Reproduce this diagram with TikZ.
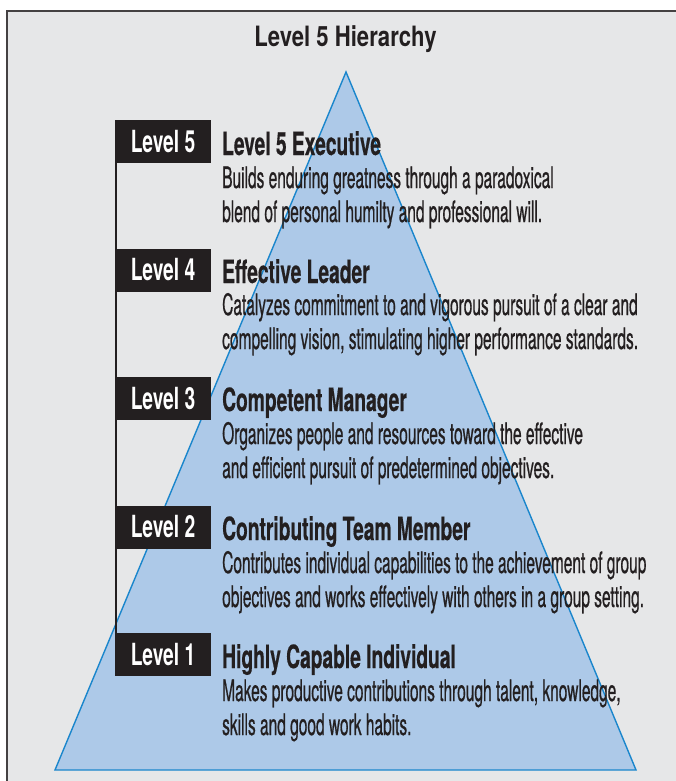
\documentclass[tikz,border=0pt]{standalone}
\usepackage{fontspec}
\newfontfamily\headfont[FakeStretch=0.79]{TeX Gyre Heros}
\newfontfamily\tagfont[FakeStretch=0.63]{TeX Gyre Heros}
\newfontfamily\namefont[FakeStretch=0.60, FakeBold=0.4]{TeX Gyre Heros}
\newfontfamily\descfont[FakeStretch=0.525, FakeBold=0.6]{TeX Gyre Heros}
\definecolor{panel}{RGB}{230,231,232}
\definecolor{pyrfill}{RGB}{173,201,232}
\definecolor{pyredge}{RGB}{26,134,204}
\definecolor{ink}{RGB}{35,31,32}
\begin{document}
\begin{tikzpicture}[x=1pt, y=-1pt]
\tikzstyle{lvltag} = [fill=ink, text=white, minimum width=96pt, minimum height=43pt, inner sep=0pt,
    font=\tagfont\bfseries\fontsize{30.5}{30}\selectfont]
\tikzstyle{lvlname} = [anchor=base west, inner sep=0pt, text=ink,
    font=\namefont\bfseries\fontsize{32}{34}\selectfont]
\tikzstyle{lvldesc} = [anchor=base west, inner sep=0pt, text=ink, align=left,
    font=\descfont\fontsize{29.5}{34}\selectfont]
\tikzstyle{header} = [anchor=base, inner sep=0pt, text=ink,
    font=\headfont\bfseries\fontsize{28}{30}\selectfont]
\useasboundingbox (0,0) rectangle (676,781);

% panel and pyramid
\fill[panel] (7,11) rectangle (676,781);
\draw[ink!85, line width=1.5pt] (7,781) -- (7,11) -- (676,11);
\filldraw[fill=pyrfill, draw=pyredge, line width=1.4pt, line join=miter]
    (346,72) -- (636,770) -- (55,770) -- cycle;

\node[header] (title) at (345.5,47) {Level 5 Hierarchy};

% level tags
\node[lvltag] (tag5) at (163,141.5) {Level 5};
\node[lvltag] (tag4) at (163,270) {Level 4};
\node[lvltag] (tag3) at (163,398.5) {Level 3};
\node[lvltag] (tag2) at (163,527) {Level 2};
\node[lvltag] (tag1) at (163,654.5) {Level 1};
\draw[ink, line width=2.5pt] ([xshift=1.3pt]tag5.south west) -- ([xshift=1.3pt]tag1.north west);

% names and descriptions (desc nodes sit on their last line)
\node[lvlname] (name5) at (222,155) {Level 5 Executive};
\node[lvldesc] (desc5) at (222,222) {Builds enduring greatness through a paradoxical\\
    blend of personal humilty and professional will.};

\node[lvlname] (name4) at (222,283) {Effective Leader};
\node[lvldesc] (desc4) at (222,349) {Catalyzes commitment to and vigorous pursuit of a clear and\\
    compelling vision, stimulating higher performance standards.};

\node[lvlname] (name3) at (222,411) {Competent Manager};
\node[lvldesc] (desc3) at (222,478) {Organizes people and resources toward the effective\\
    and efficient pursuit of predetermined objectives.};

\node[lvlname] (name2) at (222,540) {Contributing Team Member};
\node[lvldesc] (desc2) at (222,607) {Contributes individual capabilities to the achievement of group\\
    objectives and works effectively with others in a group setting.};

\node[lvlname] (name1) at (222,668) {Highly Capable Individual};
\node[lvldesc] (desc1) at (222,735) {Makes productive contributions through talent, knowledge,\\
    skills and good work habits.};
\end{tikzpicture}
\end{document}
